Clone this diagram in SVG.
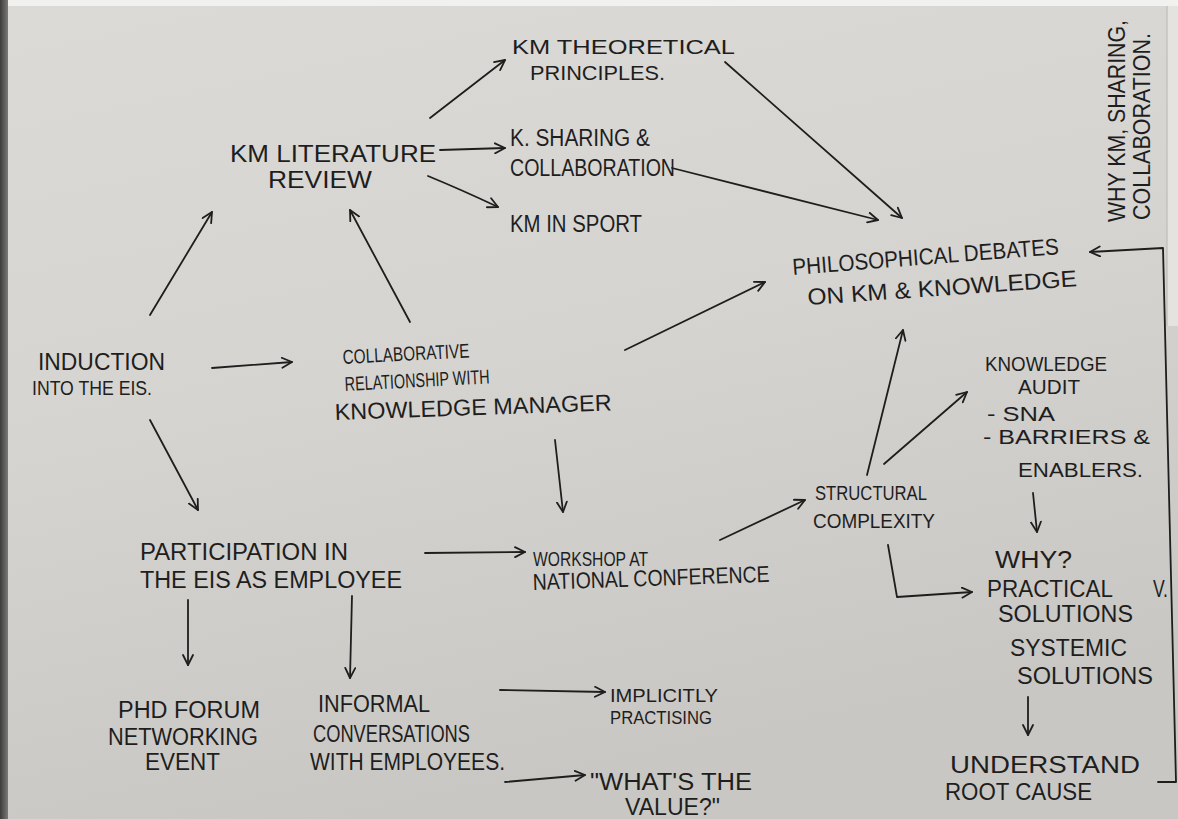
<svg xmlns="http://www.w3.org/2000/svg" width="1178" height="819" viewBox="0 0 1178 819">
  <defs>
    <linearGradient id="paper" x1="0" y1="0" x2="0.3" y2="1">
      <stop offset="0" stop-color="#dcdad6"/>
      <stop offset="0.5" stop-color="#d6d4d0"/>
      <stop offset="1" stop-color="#c9c7c3"/>
    </linearGradient>
    <linearGradient id="edge" x1="0" y1="0" x2="1" y2="0">
      <stop offset="0" stop-color="#3c3c3c"/>
      <stop offset="1" stop-color="#7a7a78"/>
    </linearGradient>
    <marker id="head" viewBox="0 0 12 12" refX="11" refY="6" markerWidth="12" markerHeight="12" markerUnits="userSpaceOnUse" orient="auto">
      <path d="M1,1 L11,6 L1,11" fill="none" stroke="#1e1e1e" stroke-width="1.8" stroke-linecap="round" stroke-linejoin="round"/>
    </marker>
    <style>
      .t { font-family: "Liberation Sans", "DejaVu Sans", sans-serif; font-size: 23px; fill: #1e1e1e; }
      .m { font-size: 21px; }
      .s { font-size: 20px; }
      .xs { font-size: 18px; }
      .c { fill: none; stroke: #1e1e1e; stroke-width: 1.8; stroke-linecap: round; stroke-linejoin: round; }
      .a { marker-end: url(#head); }
    </style>
  </defs>

  <!-- sheet of paper -->
  <rect x="0" y="0" width="1178" height="819" fill="url(#paper)"/>
  <rect x="0" y="0" width="1178" height="6" fill="#f1f1f0"/>
  <rect x="1167" y="6" width="11" height="320" fill="#e4e3e0"/>
  <line x1="1167" y1="6" x2="1167" y2="326" stroke="#b8b6b2" stroke-width="1"/>
  <rect x="0" y="0" width="8" height="819" fill="url(#edge)"/>

  <!-- connectors -->
  <g id="connectors">
    <path class="c a" d="M150,315 L212,212"/>
    <path class="c a" d="M410,322 L350,210"/>
    <path class="c a" d="M430,118 L505,60"/>
    <path class="c a" d="M440,150 L505,148"/>
    <path class="c a" d="M428,176 Q462,190 498,207"/>
    <path class="c a" d="M725,62 L902,218"/>
    <path class="c a" d="M672,168 L878,220"/>
    <path class="c a" d="M625,350 L765,282"/>
    <path class="c a" d="M212,368 L292,362"/>
    <path class="c a" d="M150,420 L198,510"/>
    <path class="c a" d="M555,440 L563,512"/>
    <path class="c a" d="M425,553 L525,552"/>
    <path class="c a" d="M720,540 L805,500"/>
    <path class="c a" d="M867,475 L903,330"/>
    <path class="c a" d="M884,464 L967,392"/>
    <path class="c a" d="M1033,493 L1037,532"/>
    <path class="c a" d="M888,545 L897,597 L972,592"/>
    <path class="c a" d="M1028,697 L1028,735"/>
    <path class="c a" d="M1158,782 L1176,782 L1163,248 L1090,252"/>
    <path class="c a" d="M188,600 L188,665"/>
    <path class="c a" d="M352,596 L350,678"/>
    <path class="c a" d="M500,690 L605,692"/>
    <path class="c a" d="M505,782 L585,775"/>
  </g>

  <!-- nodes -->
  <g id="km-theoretical">
    <text class="t m" x="512" y="54" textLength="223" lengthAdjust="spacingAndGlyphs">KM THEORETICAL</text>
    <text class="t m" x="530" y="80" textLength="135" lengthAdjust="spacingAndGlyphs">PRINCIPLES.</text>
  </g>
  <g id="km-literature">
    <text class="t" x="230" y="162" textLength="206" lengthAdjust="spacingAndGlyphs">KM LITERATURE</text>
    <text class="t" x="268" y="188" textLength="104" lengthAdjust="spacingAndGlyphs">REVIEW</text>
  </g>
  <g id="k-sharing">
    <text class="t" x="510" y="146" textLength="140" lengthAdjust="spacingAndGlyphs">K. SHARING &amp;</text>
    <text class="t" x="510" y="176" textLength="165" lengthAdjust="spacingAndGlyphs">COLLABORATION</text>
  </g>
  <g id="km-sport">
    <text class="t" x="510" y="232" textLength="132" lengthAdjust="spacingAndGlyphs">KM IN SPORT</text>
  </g>
  <g id="philosophical">
    <text class="t" x="793" y="275" textLength="267" lengthAdjust="spacingAndGlyphs" transform="rotate(-4.5 793 275)">PHILOSOPHICAL DEBATES</text>
    <text class="t" x="808" y="305" textLength="270" lengthAdjust="spacingAndGlyphs" transform="rotate(-4 808 305)">ON KM &amp; KNOWLEDGE</text>
  </g>
  <g id="why-km">
    <text class="t" x="1125" y="222" textLength="202" lengthAdjust="spacingAndGlyphs" transform="rotate(-90 1125 222)">WHY KM, SHARING,</text>
    <text class="t" x="1150" y="220" textLength="187" lengthAdjust="spacingAndGlyphs" transform="rotate(-90 1150 220)">COLLABORATION.</text>
  </g>
  <g id="induction">
    <text class="t" x="38" y="370" textLength="127" lengthAdjust="spacingAndGlyphs">INDUCTION</text>
    <text class="t s" x="32" y="395" textLength="120" lengthAdjust="spacingAndGlyphs">INTO THE EIS.</text>
  </g>
  <g id="collab-relationship">
    <text class="t s" x="343" y="364" textLength="127" lengthAdjust="spacingAndGlyphs" transform="rotate(-3 343 364)">COLLABORATIVE</text>
    <text class="t s" x="345" y="391" textLength="145" lengthAdjust="spacingAndGlyphs" transform="rotate(-3 345 391)">RELATIONSHIP WITH</text>
    <text class="t" x="335" y="420" textLength="277" lengthAdjust="spacingAndGlyphs" transform="rotate(-2 335 420)">KNOWLEDGE MANAGER</text>
  </g>
  <g id="participation">
    <text class="t" x="140" y="560" textLength="208" lengthAdjust="spacingAndGlyphs">PARTICIPATION IN</text>
    <text class="t" x="140" y="588" textLength="262" lengthAdjust="spacingAndGlyphs">THE EIS AS EMPLOYEE</text>
  </g>
  <g id="workshop">
    <text class="t s" x="533" y="566" textLength="115" lengthAdjust="spacingAndGlyphs">WORKSHOP AT</text>
    <text class="t" x="533" y="590" textLength="237" lengthAdjust="spacingAndGlyphs" transform="rotate(-2 533 590)">NATIONAL CONFERENCE</text>
  </g>
  <g id="structural">
    <text class="t s" x="815" y="500" textLength="112" lengthAdjust="spacingAndGlyphs">STRUCTURAL</text>
    <text class="t s" x="813" y="528" textLength="122" lengthAdjust="spacingAndGlyphs">COMPLEXITY</text>
  </g>
  <g id="knowledge-audit">
    <text class="t s" x="985" y="371" textLength="122" lengthAdjust="spacingAndGlyphs">KNOWLEDGE</text>
    <text class="t s" x="1018" y="394" textLength="62" lengthAdjust="spacingAndGlyphs">AUDIT</text>
    <text class="t s" x="987" y="421" textLength="68" lengthAdjust="spacingAndGlyphs">- SNA</text>
    <text class="t s" x="983" y="444" textLength="167" lengthAdjust="spacingAndGlyphs">- BARRIERS &amp;</text>
    <text class="t s" x="1018" y="477" textLength="125" lengthAdjust="spacingAndGlyphs">ENABLERS.</text>
  </g>
  <g id="why-solutions">
    <text class="t" x="995" y="568" textLength="77" lengthAdjust="spacingAndGlyphs">WHY?</text>
    <text class="t" x="987" y="597" textLength="126" lengthAdjust="spacingAndGlyphs">PRACTICAL</text>
    <text class="t" x="1153" y="597" textLength="15" lengthAdjust="spacingAndGlyphs">V.</text>
    <text class="t" x="998" y="622" textLength="135" lengthAdjust="spacingAndGlyphs">SOLUTIONS</text>
    <text class="t" x="1010" y="656" textLength="117" lengthAdjust="spacingAndGlyphs">SYSTEMIC</text>
    <text class="t" x="1017" y="684" textLength="136" lengthAdjust="spacingAndGlyphs">SOLUTIONS</text>
  </g>
  <g id="root-cause">
    <text class="t" x="950" y="773" textLength="190" lengthAdjust="spacingAndGlyphs">UNDERSTAND</text>
    <text class="t" x="945" y="800" textLength="147" lengthAdjust="spacingAndGlyphs">ROOT CAUSE</text>
  </g>
  <g id="phd-forum">
    <text class="t" x="118" y="718" textLength="142" lengthAdjust="spacingAndGlyphs">PHD FORUM</text>
    <text class="t" x="108" y="745" textLength="150" lengthAdjust="spacingAndGlyphs">NETWORKING</text>
    <text class="t" x="145" y="770" textLength="75" lengthAdjust="spacingAndGlyphs">EVENT</text>
  </g>
  <g id="informal">
    <text class="t" x="318" y="712" textLength="112" lengthAdjust="spacingAndGlyphs">INFORMAL</text>
    <text class="t" x="313" y="742" textLength="157" lengthAdjust="spacingAndGlyphs">CONVERSATIONS</text>
    <text class="t" x="310" y="770" textLength="195" lengthAdjust="spacingAndGlyphs">WITH EMPLOYEES.</text>
  </g>
  <g id="implicitly">
    <text class="t xs" x="610" y="702" textLength="108" lengthAdjust="spacingAndGlyphs">IMPLICITLY</text>
    <text class="t xs" x="610" y="724" textLength="102" lengthAdjust="spacingAndGlyphs">PRACTISING</text>
  </g>
  <g id="value">
    <text class="t" x="590" y="790" textLength="162" lengthAdjust="spacingAndGlyphs">"WHAT'S THE</text>
    <text class="t" x="625" y="815" textLength="95" lengthAdjust="spacingAndGlyphs">VALUE?"</text>
  </g>
</svg>
